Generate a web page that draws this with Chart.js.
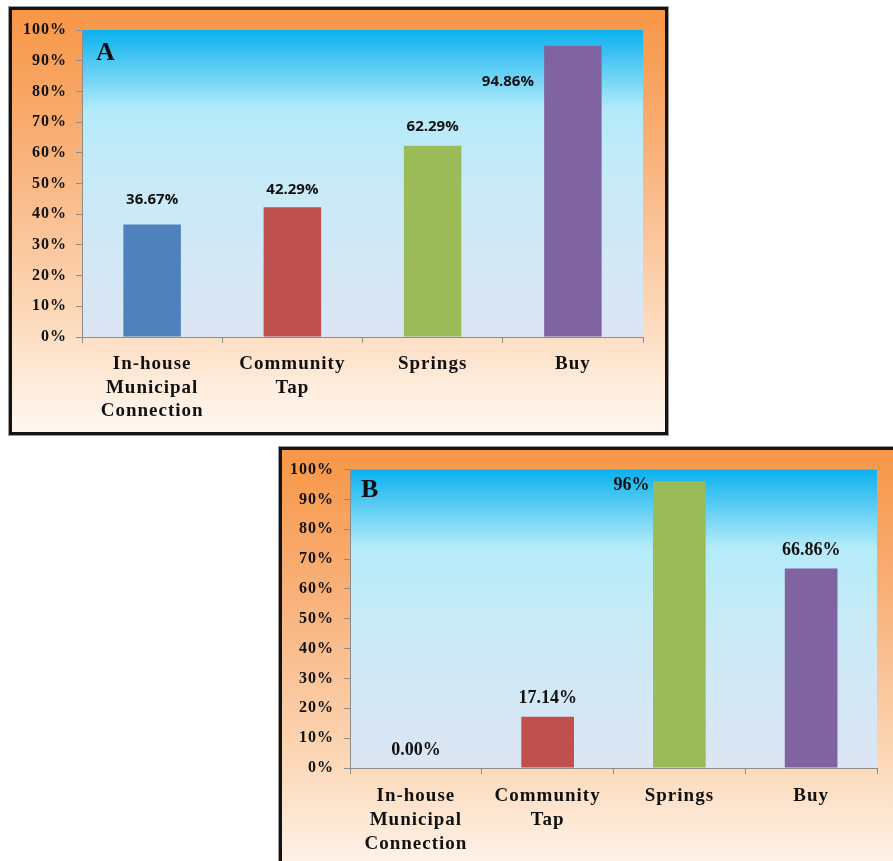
<!DOCTYPE html>
<html>
<head>
<meta charset="utf-8">
<script src="https://cdn.jsdelivr.net/npm/chart.js@4.4.1/dist/chart.umd.min.js"></script>
<style>
    html, body { margin: 0; padding: 0; background: #fff; overflow: hidden; }
    body { width: 893px; height: 861px; position: relative; }
    .panel {
        position: absolute;
        box-sizing: border-box;
        border: 3px solid #141414;
        box-shadow: 0 0 0 1px #9a9a9a;
        background: linear-gradient(to bottom, #f79646 0%, #f9b27c 35%, #fcd6b5 70%, #fff8f1 100%);
        overflow: hidden;
    }
    #panel-a { left: 9px; top: 7px; width: 659px; height: 428px; }
    #panel-b { left: 279px; top: 447px; width: 660px; height: 440px; }
    .panel canvas { position: absolute; left: 0; top: 0; }
</style>
</head>
<body>
<div class="panel" id="panel-a"><div style="position:absolute;left:0;top:0;width:653px;height:422px"><canvas id="chart-a"></canvas></div></div>
<div class="panel" id="panel-b"><div style="position:absolute;left:0;top:0;width:611px;height:411px"><canvas id="chart-b"></canvas></div></div>
<script>
(function () {
    'use strict';

    const categories = [['In-house', 'Municipal', 'Connection'], ['Community', 'Tap'], 'Springs', 'Buy'];
    const valuesA = [36.67, 42.29, 62.29, 94.86];
    const valuesB = [0, 17.14, 96, 66.86];
    const labelsA = ['36.67%', '42.29%', '62.29%', '94.86%'];
    const labelsB = ['0.00%', '17.14%', '96%', '66.86%'];
    const barColors = ['#4f81bd', '#c0504d', '#9bbb59', '#8064a2'];

    // label offsets from bar top (style only)
    const offsetsA = [[0, -25], [0, -17], [0, -19], [-65, 36]];
    const offsetsB = [[0, -18], [0, -19], [-48, 4], [0, -18]];

    const plotBackground = {
        id: 'plotBackground',
        beforeDraw(chart) {
            const { ctx, chartArea: a } = chart;
            const g = ctx.createLinearGradient(0, a.top, 0, a.bottom);
            g.addColorStop(0, '#0bb1ee');
            g.addColorStop(0.26, '#b4ebfa');
            g.addColorStop(0.5, '#c8eaf7');
            g.addColorStop(1, '#dde5f3');
            ctx.save();
            ctx.fillStyle = g;
            ctx.fillRect(a.left, a.top, a.right - a.left, a.bottom - a.top);
            ctx.restore();
            // wider axis text, like the original
            ctx.letterSpacing = '1px';
        },
        beforeDatasetsDraw(chart) {
            chart.ctx.letterSpacing = '0px';
        }
    };

    const panelLetter = {
        id: 'panelLetter',
        afterDraw(chart, args, opts) {
            const { ctx, chartArea: a } = chart;
            ctx.save();
            ctx.font = 'bold 26px "Liberation Serif"';
            ctx.fillStyle = '#111';
            ctx.textBaseline = 'top';
            ctx.fillText(opts.text, a.left + opts.dx, a.top + opts.dy);
            ctx.restore();
        }
    };

    const valueLabels = {
        id: 'valueLabels',
        afterDatasetsDraw(chart, args, opts) {
            const { ctx } = chart;
            const meta = chart.getDatasetMeta(0);
            ctx.save();
            ctx.font = opts.font;
            ctx.fillStyle = '#111';
            ctx.textAlign = 'center';
            ctx.textBaseline = 'middle';
            meta.data.forEach((bar, i) => {
                const off = opts.offsets[i];
                ctx.fillText(opts.labels[i], bar.x + off[0], bar.y + off[1]);
            });
            ctx.restore();
        }
    };

    function createChart(el, values, labels, offsets, letter, sizes) {
        return new Chart(el.getContext('2d'), {
            type: 'bar',
            data: {
                labels: categories,
                datasets: [{
                    data: values,
                    backgroundColor: barColors,
                    borderWidth: 0,
                    categoryPercentage: 1,
                    barPercentage: sizes.bar
                }]
            },
            options: {
                responsive: true,
                maintainAspectRatio: false,
                animation: false,
                layout: { padding: { top: sizes.top, right: sizes.right, left: 0, bottom: 0 } },
                plugins: {
                    legend: { display: false },
                    tooltip: { enabled: false },
                    valueLabels: { labels: labels, offsets: offsets, font: sizes.labelFont },
                    panelLetter: { text: letter, dx: sizes.letterDx, dy: sizes.letterDy }
                },
                scales: {
                    x: {
                        grid: { display: true, drawOnChartArea: false, offset: true, tickLength: 6, color: '#8c8c8c' },
                        border: { display: true, color: '#8c8c8c' },
                        ticks: {
                            color: '#111',
                            padding: 10,
                            maxRotation: 0,
                            autoSkip: false,
                            font: { family: 'Liberation Serif', weight: 'bold', size: 19, lineHeight: sizes.lineHeight }
                        },
                        afterFit(scale) { scale.height = sizes.xHeight; }
                    },
                    y: {
                        min: 0,
                        max: 100,
                        grid: { display: true, drawOnChartArea: false, tickLength: 6, color: '#8c8c8c' },
                        border: { display: true, color: '#8c8c8c' },
                        ticks: {
                            stepSize: 10,
                            color: '#111',
                            padding: sizes.yPad,
                            font: { family: 'Liberation Serif', weight: 'bold', size: 16 },
                            callback: v => v + '%'
                        },
                        afterFit(scale) { scale.width = sizes.yWidth; }
                    }
                }
            },
            plugins: [plotBackground, valueLabels, panelLetter]
        });
    }

    createChart(document.getElementById('chart-a'), valuesA, labelsA, offsetsA, 'A', {
        bar: 0.41, top: 20, right: 22, xHeight: 95, yWidth: 70, yPad: 9, lineHeight: 1.22,
        labelFont: 'bold 15px "Open Sans"', letterDx: 14, letterDy: 10
    });
    createChart(document.getElementById('chart-b'), valuesB, labelsB, offsetsB, 'B', {
        bar: 0.40, top: 19, right: 16, xHeight: 93, yWidth: 68, yPad: 10, lineHeight: 1.27,
        labelFont: 'bold 18px "Liberation Serif"', letterDx: 11, letterDy: 8
    });
})();
</script>
</body>
</html>
